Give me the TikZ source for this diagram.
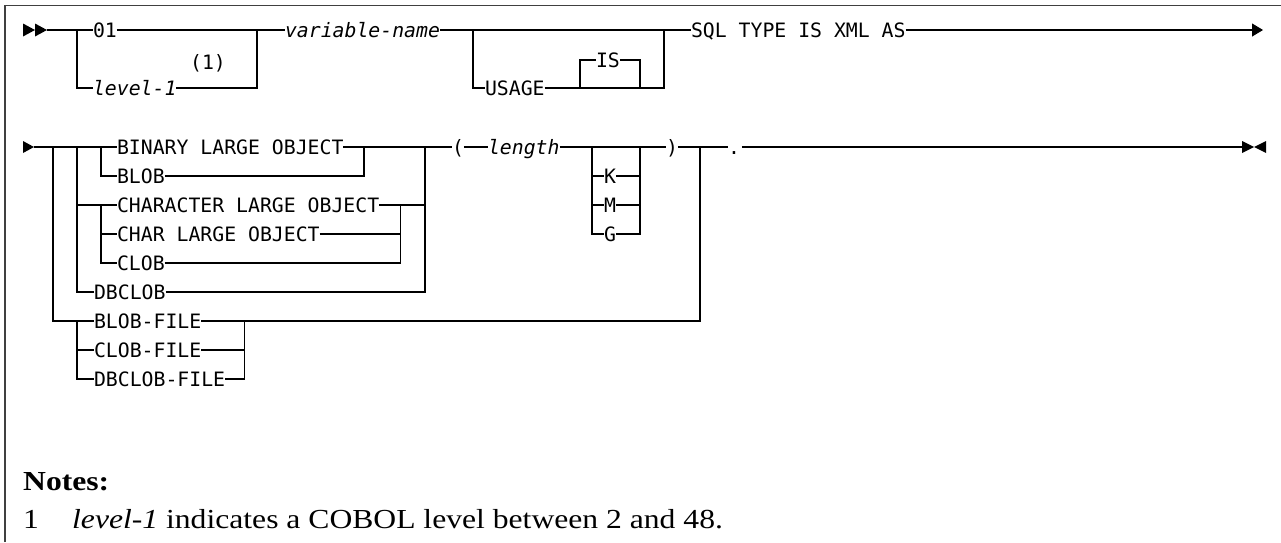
\documentclass[tikz,border=0pt]{standalone}
\usepackage{fontspec}
\setmainfont{Liberation Serif}
\newfontfamily\railfont{DejaVu Sans Mono}
\newfontfamily\notefont[FakeStretch=1.15]{Liberation Serif}
\usetikzlibrary{arrows.meta, calc}

\tikzset{
  rail/.style={line width=1.1pt},
  kw/.style={anchor=west, inner sep=0pt, outer sep=0pt, text height=14.4pt, text depth=0pt,
    font=\railfont\fontsize{19.8}{22}\selectfont},
  var/.style={kw, font=\railfont\itshape\fontsize{19.8}{22}\selectfont},
  note/.style={anchor=base west, inner sep=0pt, font=\notefont\fontsize{27.5}{30}\selectfont},
  frameline/.style={line width=1.6pt, black!75},
}

\begin{document}
\begin{tikzpicture}[x=1pt, y=-1pt]
  \useasboundingbox (0,0) rectangle (1281,542);
  % frame
  \draw[frameline] (5,542) -- (5,5.5) -- (1281,5.5);

  % first line
  \fill (23,23.5) -- (35,30) -- (23,36.5) -- cycle;
  \fill (35,23.5) -- (47,30) -- (35,36.5) -- cycle;
  \coordinate (s1) at (47,30);
  \coordinate (a1) at (77,30);
  \coordinate (b1) at (257,30);
  \coordinate (u1) at (473,30);
  \coordinate (u2) at (664,30);
  \coordinate (i1) at (580,88);
  \coordinate (i2) at (640,88);
  \coordinate (e1) at (1263,30);

  \node[kw] (n01) at (93,30) {01};
  \node[var] (lvl) at (93,88) {level-1};
  \node[kw, anchor=center] (fn) at (208,62) {(1)};
  \node[var] (vname) at (285,30) {variable-name};
  \node[kw] (usage) at (485,88) {USAGE};
  \node[kw] (is) at (596,60) {IS};
  \node[kw] (sql) at (691,30) {SQL TYPE IS XML AS};

  \draw[rail] (s1) -- (n01.west);
  \draw[rail] (a1) |- (lvl.west);
  \draw[rail] (n01.east) -- (vname.west);
  \draw[rail] (lvl.east) -| (b1);
  \draw[rail] (vname.east) -- (sql.west);
  \draw[rail] (u1) |- (usage.west);
  \draw[rail] (usage.east) -| (u2);
  \draw[rail] (i1) |- (is.west);
  \draw[rail] (is.east) -| (i2);
  \draw[rail, -{Triangle[length=11pt, width=13pt]}] (sql.east) -- (e1);

  % second line
  \fill (23,141) -- (34,147) -- (23,153) -- cycle;
  \coordinate (s2) at (34,147);
  \coordinate (o1) at (53,147);
  \coordinate (m1) at (77,147);
  \coordinate (c1) at (101,147);
  \coordinate (c2) at (364,147);
  \coordinate (m2) at (425,147);
  \coordinate (o2) at (700,147);
  \coordinate (ch) at (77,205);
  \coordinate (ch2) at (425,205);
  \coordinate (fl) at (77,321);
  \coordinate (k1) at (592,147);
  \coordinate (k2) at (640,147);
  \coordinate (e2) at (1242,147);

  \node[kw] (bin) at (117,147) {BINARY LARGE OBJECT};
  \node[kw] (blob) at (117,176) {BLOB};
  \node[kw] (chara) at (117,205) {CHARACTER LARGE OBJECT};
  \node[kw] (charl) at (117,234) {CHAR LARGE OBJECT};
  \node[kw] (clob) at (117,263) {CLOB};
  \node[kw] (dbclob) at (94,292) {DBCLOB};
  \node[kw] (blobf) at (94,321) {BLOB-FILE};
  \node[kw] (clobf) at (94,350) {CLOB-FILE};
  \node[kw] (dbclobf) at (94,379) {DBCLOB-FILE};
  \node[kw] (lpar) at (452,147) {(};
  \node[var] (len) at (488,147) {length};
  \node[kw] (kk) at (604,176) {K};
  \node[kw] (mm) at (604,205) {M};
  \node[kw] (gg) at (604,234) {G};
  \node[kw] (rpar) at (666,147) {)};
  \node[kw] (dot) at (728,147) {.};

  \draw[rail] (s2) -- (bin.west);
  \draw[rail] (c1) |- (blob.west);
  \draw[rail] (bin.east) -- (lpar.west);
  \draw[rail] (blob.east) -| (c2);
  \draw[rail] (m1) |- (dbclob.west);
  \draw[rail] (dbclob.east) -| (m2);
  \draw[rail] (ch) -- (chara.west);
  \draw[rail] ($(chara.west)+(-16,0)$) |- (charl.west);
  \draw[rail] ($(chara.west)+(-16,0)$) |- (clob.west);
  \draw[rail] (chara.east) -- (ch2);
  \draw[rail] (charl.east) -| ($(chara.east)+(21,0)$);
  \draw[rail] (clob.east) -| ($(chara.east)+(21,0)$);
  \draw[rail] (o1) |- (blobf.west);
  \draw[rail] (fl) |- (clobf.west);
  \draw[rail] (fl) |- (dbclobf.west);
  \draw[rail] (blobf.east) -| (o2);
  \draw[rail] (clobf.east) -| ($(blobf.east)+(43,0)$);
  \draw[rail] (dbclobf.east) -| ($(blobf.east)+(43,0)$);
  \draw[rail] (lpar.east) -- (len.west);
  \draw[rail] (len.east) -- (rpar.west);
  \draw[rail] (k1) |- (gg.west);
  \draw[rail] (k1) |- (kk.west);
  \draw[rail] (k1 |- mm) -- (mm.west);
  \draw[rail] (k2) |- (gg.east);
  \draw[rail] (kk.east) -- (kk -| k2);
  \draw[rail] (mm.east) -- (mm -| k2);
  \draw[rail] (rpar.east) -- (dot.west);
  \draw[rail] ($(dot.east)+(2,0)$) -- (e2);
  \fill (1242,141) -- (1254,147) -- (1242,153) -- cycle;
  \fill (1266,141) -- (1254,147) -- (1266,153) -- cycle;

  % notes
  \node[note, font=\notefont\bfseries\fontsize{27.5}{30}\selectfont] (notes) at (23,490) {Notes:};
  \node[note] (num) at (23,528) {1};
  \node[note] (ntext) at (72,528) {\textit{level-1} indicates a COBOL level between 2 and 48.};
\end{tikzpicture}
\end{document}
